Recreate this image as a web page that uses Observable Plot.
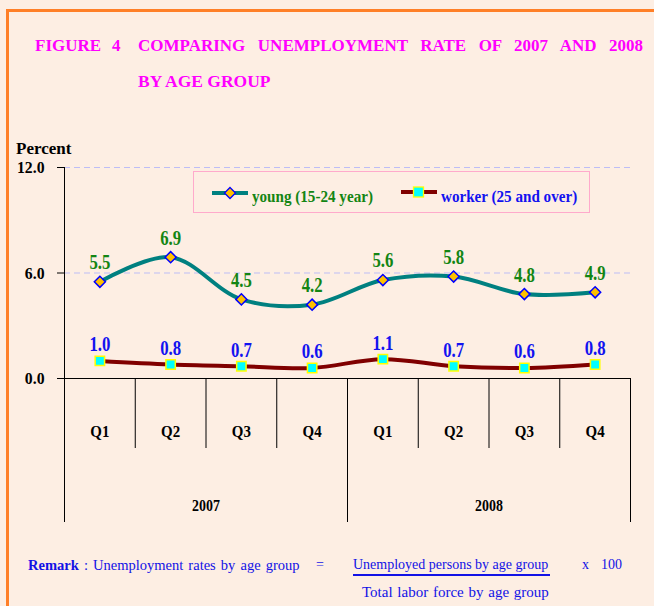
<!DOCTYPE html>
<html><head><meta charset="utf-8">
<script src="https://cdn.jsdelivr.net/npm/d3@7"></script>
<script src="https://cdn.jsdelivr.net/npm/@observablehq/plot@0.6"></script>
<style>
html,body{margin:0;padding:0;background:#FDEEE3;}
body{width:654px;height:606px;position:relative;overflow:hidden;font-family:"Liberation Serif","Times New Roman",serif;}
.frame{position:absolute;left:6px;top:9px;width:700px;height:700px;border-top:3px solid #FF7F27;border-left:3px solid #FF7F27;}
.abs{position:absolute;white-space:nowrap;line-height:1;}
.title{color:#FF00FF;font-weight:bold;font-size:17px;}
.just{text-align:justify;text-align-last:justify;}
.legend{position:absolute;left:193px;top:171px;width:397px;height:42px;box-sizing:border-box;border:1.5px solid #FFAACC;}
.lg{font-weight:bold;font-size:16px;transform:scaleX(0.945);transform-origin:0 0;}
.rem{color:#1212E6;font-size:14px;}
#chart{position:absolute;left:0;top:130px;}
</style>
</head><body>
<div class="frame"></div>
<div class="abs title" style="left:35px;top:37px;">FIGURE</div>
<div class="abs title" style="left:112px;top:37px;">4</div>
<div class="abs title just" style="left:138px;top:37px;width:505px;">COMPARING UNEMPLOYMENT RATE OF 2007 AND 2008</div>
<div class="abs title" style="left:138px;top:73px;font-size:17.5px;">BY AGE GROUP</div>
<div class="abs" style="left:16px;top:140px;font-weight:bold;font-size:17px;color:#000;">Percent</div>
<div id="chart"></div>
<div class="legend" id="legend"></div>
<div class="abs rem" style="left:28px;top:558px;font-size:14.5px;word-spacing:1.5px;"><b>Remark</b> : Unemployment rates by age group</div>
<div class="abs rem" style="left:316px;top:558px;">=</div>
<div class="abs rem" style="left:353px;top:558px;">Unemployed persons by age group</div>
<div class="abs" style="left:353px;top:574px;width:197px;height:2px;background:#1212E6;"></div>
<div class="abs rem" style="left:582px;top:558px;">x</div>
<div class="abs rem" style="left:601px;top:558px;">100</div>
<div class="abs rem" style="left:362px;top:585px;font-size:15px;word-spacing:1px;">Total labor force by age group</div>
<script>
// ---- data ----
const quarters = ["Q1","Q2","Q3","Q4","Q1","Q2","Q3","Q4"];
const years = ["2007","2008"];
const seriesNames = ["young (15-24 year)","worker (25 and over)"];
const young = [5.5, 6.9, 4.5, 4.2, 5.6, 5.8, 4.8, 4.9];
const worker = [1.0, 0.8, 0.7, 0.6, 1.1, 0.7, 0.6, 0.8];
const yTicks = [0, 6, 12];
const gridLines = [6, 12];

// ---- styles ----
const youngLine = "#008080", youngFill = "#FFC000", youngStroke = "#0000FF", youngText = "#138513";
const workerLine = "#800000", workerFill = "#00FFFF", workerStroke = "#FFFF00", workerText = "#1212F0";

const youngData = young.map((v, i) => ({i, v}));
const workerData = worker.map((v, i) => ({i, v}));
const bounds = d3.range(quarters.length + 1).map(k => k - 0.5);
const innerBounds = bounds.filter((b, k) => k % 4 !== 0);
const outerBounds = bounds.filter((b, k) => k % 4 === 0);
const yearData = years.map((y, j) => ({y, x: j * 4 + 1.5}));

const chart = Plot.plot({
  width: 654, height: 400,
  marginLeft: 64, marginRight: 24, marginTop: 37, marginBottom: 152,
  x: {type: "linear", domain: [-0.5, quarters.length - 0.5], axis: null},
  y: {domain: [0, 12], axis: null},
  style: {background: "transparent", fontFamily: "Liberation Serif, Times New Roman, serif", overflow: "visible"},
  marks: [
    Plot.ruleY(gridLines, {stroke: "#BDBDF5", strokeDasharray: "6,4", strokeWidth: 1}),
    Plot.ruleX([-0.5], {y1: 0, y2: 12, stroke: "#000", strokeWidth: 1}),
    Plot.ruleY(yTicks, {x1: -0.5, x2: -0.5, insetLeft: -7, stroke: "#000"}),
    Plot.text(yTicks, {x: -0.5, y: d => d, text: d => d.toFixed(1), textAnchor: "end", dx: -20, fontSize: 17.5, fontWeight: "bold", fill: "#000"}),
    Plot.ruleY([0], {stroke: "#000", strokeWidth: 1}),
    Plot.ruleX(innerBounds, {y1: 0, y2: 0, insetBottom: -70, stroke: "#000"}),
    Plot.ruleX(outerBounds, {y1: 0, y2: 0, insetBottom: -144, stroke: "#000"}),
    Plot.text(quarters, {x: (d, i) => i, y: 0, dy: 53, text: d => d, fontSize: 17, fontWeight: "bold", fill: "#000"}),
    Plot.text(yearData, {x: "x", y: 0, dy: 127, text: "y", fontSize: 17, fontWeight: "bold", fill: "#000"}),
    Plot.line(youngData, {x: "i", y: "v", stroke: youngLine, strokeWidth: 4, curve: "catmull-rom"}),
    Plot.line(workerData, {x: "i", y: "v", stroke: workerLine, strokeWidth: 4, curve: "catmull-rom"}),
    Plot.dot(youngData, {x: "i", y: "v", symbol: "diamond2", r: 5, fill: youngFill, stroke: youngStroke, strokeWidth: 1.5}),
    Plot.dot(workerData, {x: "i", y: "v", symbol: "square", r: 5.3, fill: workerFill, stroke: workerStroke, strokeWidth: 1.5}),
    Plot.text(youngData, {x: "i", y: "v", text: d => d.v.toFixed(1), dy: -19, fontSize: 20, fontWeight: "bold", fill: youngText}),
    Plot.text(workerData, {x: "i", y: "v", text: d => d.v.toFixed(1), dy: -16, fontSize: 20, fontWeight: "bold", fill: workerText})
  ]
});
document.getElementById("chart").appendChild(chart);

// narrow the serif glyphs a little, like the reference's condensed type
function condense(group, s) {
  group.querySelectorAll("text").forEach(t => {
    const tr = t.getAttribute("transform");
    if (tr) t.setAttribute("transform", tr + ` scale(${s},1)`);
    else {
      const x = t.getAttribute("x") || 0, y = t.getAttribute("y") || 0;
      t.removeAttribute("x"); t.removeAttribute("y");
      t.setAttribute("transform", `translate(${x},${y}) scale(${s},1)`);
    }
  });
}
const tg = chart.querySelectorAll('g[aria-label="text"]');
const scales = [0.9, 0.88, 0.82, 0.84, 0.84];
tg.forEach((g, k) => condense(g, scales[k] ?? 1));

// ---- legend ----
const lg = document.getElementById("legend");
lg.innerHTML =
  `<svg style="position:absolute;left:16px;top:13px" width="40" height="16"><line x1="2" y1="8" x2="38" y2="8" stroke="${youngLine}" stroke-width="4"/><path d="M20,2.5 L25.5,8 L20,13.5 L14.5,8Z" fill="${youngFill}" stroke="${youngStroke}" stroke-width="1.3"/></svg>` +
  `<div class="abs lg" style="left:58px;top:17px;color:${youngText}">${seriesNames[0]}</div>` +
  `<svg style="position:absolute;left:205px;top:12px" width="40" height="16"><line x1="2" y1="8" x2="38" y2="8" stroke="${workerLine}" stroke-width="4"/><rect x="14.5" y="3" width="10" height="10" fill="${workerFill}" stroke="${workerStroke}" stroke-width="1.3"/></svg>` +
  `<div class="abs lg" style="left:247px;top:17px;color:${workerText}">${seriesNames[1]}</div>`;
</script>
</body></html>
